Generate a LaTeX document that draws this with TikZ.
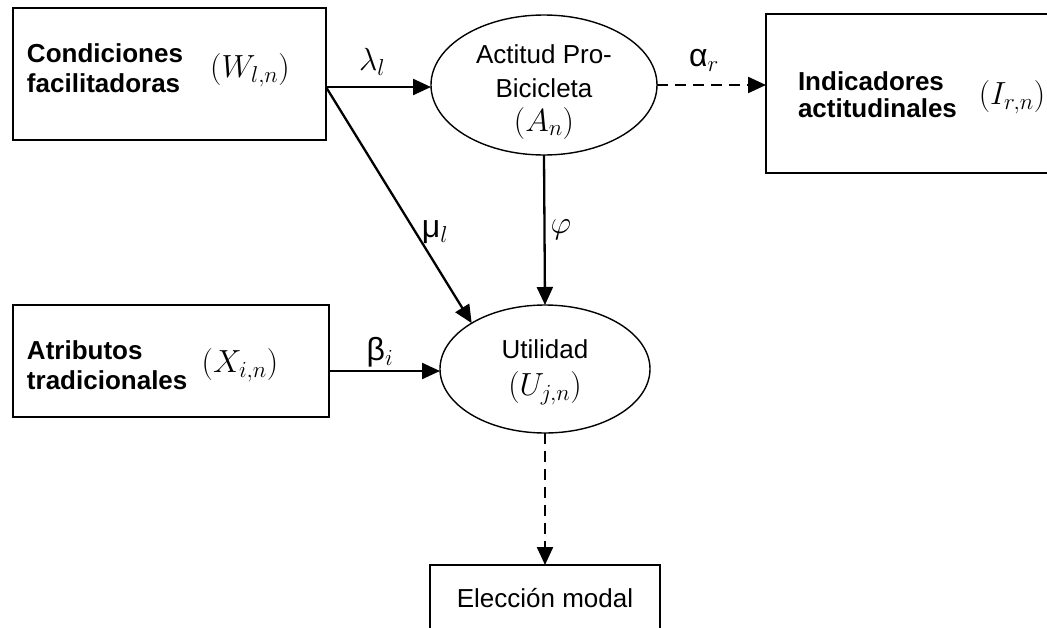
\RequirePackage{fix-cm}
\documentclass[tikz,border=0pt]{standalone}
\usepackage{fontspec}
\setmainfont{Liberation Sans}
\DeclareMathSizes{26}{26}{18}{13}
\DeclareMathSizes{32}{32}{23}{16}
\newcommand\mth[1]{{\fontsize{32}{34}\selectfont$#1$}}
\usetikzlibrary{shapes.geometric,arrows.meta}
\begin{document}
\begin{tikzpicture}[x=1pt,y=-1pt,
  every node/.style={font=\fontsize{26}{30}\selectfont, inner sep=0pt, outer sep=0pt},
  box/.style={draw, line width=1.9pt, rectangle},
  ell/.style={draw, line width=1.4pt, ellipse},
  btext/.style={anchor=west, align=left, font=\fontsize{26}{30}\selectfont\bfseries},
  lbl/.style={font=\fontsize{32}{34}\selectfont},
  arr/.style={line width=2.3pt, -{Triangle[length=18pt,width=16pt]}},
  dsh/.style={dash pattern=on 11pt off 7pt}]
\clip (0,0) rectangle (1047,627);
% boxes
\node[box, minimum width=313pt, minimum height=132pt] (W) at (169.5,74) {};
\node[box, minimum width=316pt, minimum height=112pt] (X) at (171,361) {};
\node[box, minimum width=300pt, minimum height=159pt] (I) at (916,93.5) {};
\node[box, minimum width=230pt, minimum height=90pt] (E) at (545,610) {};
% ellipses
\node[ell, minimum width=226pt, minimum height=140pt] (A) at (544,85) {};
\node[ell, minimum width=210pt, minimum height=128pt] (U) at (545,369) {};
% ellipse texts
\node (At1) at (544,54) {Actitud Pro-};
\node (At2) at (544,88) {Bicicleta};
\node (At3) at (544,123) {\mth{(A_n)}};
\node (Ut1) at (545,349) {Utilidad};
\node (Ut2) at (545,388) {\mth{(U_{j,n})}};
% box texts
\node[btext] (Wt) at (27,68) {Condiciones\\facilitadoras};
\node (Wm) at (250,70) {\mth{(W_{l,n})}};
\node[btext] (Xt) at (27,365) {Atributos\\tradicionales};
\node (Xm) at (240,365) {\mth{(X_{i,n})}};
\node[btext, font=\fontsize{26}{27}\selectfont\bfseries] (It) at (798,95) {Indicadores\\actitudinales};
\node (Im) at (1012,97) {\mth{(I_{r,n})}};
\node (Et) at (545,598) {Elección modal};
% connector start points
\coordinate (w1) at (326,87);
\coordinate (x1) at (329,371);
% connectors
\draw[arr] (w1) -- (w1 -| A.west);
\draw[arr] (w1) -- (U.148);
\draw[arr] (A.south) -- (U.north);
\draw[arr] (x1) -- (x1 -| U.west);
\draw[arr,dsh] (A.east) -- (A.east -| I.west);
\draw[arr,dsh] (U.south) -- (E.north);
% labels
\node[lbl] (lam) at (372,62) {$\lambda_l$};
\node[lbl] (alp) at (704,60) {α$_r$};
\node[lbl] (mu) at (435,232) {μ$_l$};
\node[lbl] (phi) at (561,230) {$\varphi$};
\node[lbl] (bet) at (380,352) {β$_i$};
\end{tikzpicture}
\end{document}
